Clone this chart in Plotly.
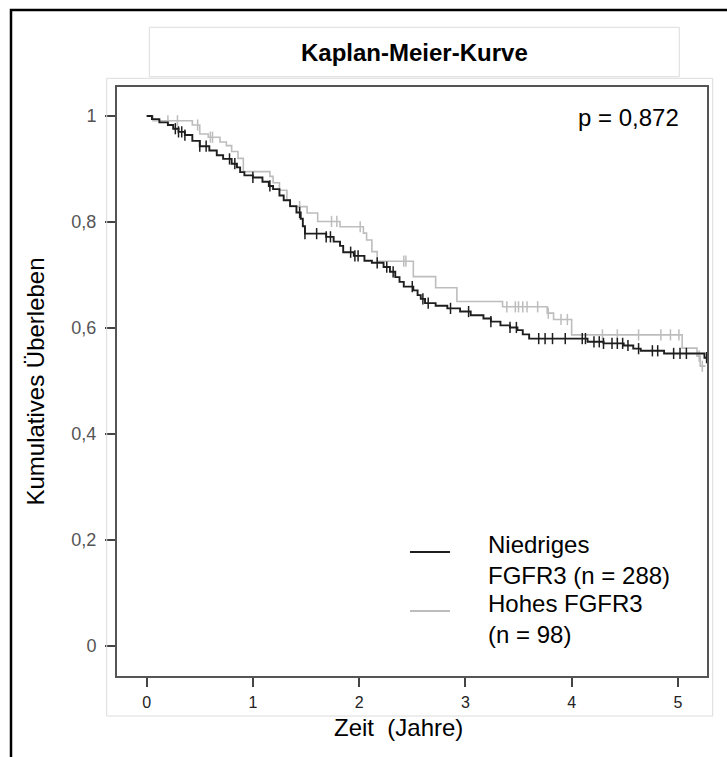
import numpy as np
import plotly.graph_objects as go

# ---------------- data ----------------
low_times = [0, 0.05, 0.12, 0.2, 0.25, 0.3, 0.36, 0.43, 0.5, 0.59, 0.66, 0.72, 0.8, 0.85,
             0.88, 0.92, 1.0, 1.09, 1.15, 1.19, 1.25, 1.29, 1.35, 1.41, 1.45, 1.47, 1.49,
             1.69, 1.76, 1.82, 1.85, 1.95, 2.05, 2.12, 2.23, 2.29, 2.34, 2.38, 2.42, 2.51,
             2.55, 2.58, 2.62, 2.72, 2.83, 2.95, 3.05, 3.17, 3.24, 3.33, 3.42, 3.49, 3.54,
             3.6, 4.15, 4.3, 4.49, 4.58, 4.65, 4.87, 5.25, 5.28]
low_surv = [1.0, 0.994, 0.988, 0.983, 0.976, 0.970, 0.964, 0.953, 0.943, 0.935, 0.926,
            0.919, 0.910, 0.903, 0.894, 0.888, 0.884, 0.876, 0.868, 0.862, 0.850, 0.841,
            0.830, 0.818, 0.806, 0.792, 0.778, 0.772, 0.763, 0.755, 0.743, 0.736, 0.727,
            0.723, 0.715, 0.706, 0.696, 0.687, 0.678, 0.671, 0.662, 0.655, 0.647, 0.642,
            0.637, 0.631, 0.624, 0.618, 0.612, 0.605, 0.601, 0.596, 0.588, 0.580, 0.574,
            0.571, 0.567, 0.561, 0.557, 0.552, 0.544, 0.544]
low_censor = [0.27, 0.3, 0.33, 0.36, 0.5, 0.56, 0.78, 0.83, 1.0, 1.16, 1.44, 1.49, 1.6,
              1.69, 1.73, 1.92, 1.96, 1.99, 2.17, 2.26, 2.32, 2.5, 2.6, 2.65, 2.86, 3.03,
              3.24, 3.42, 3.48, 3.69, 3.75, 3.82, 3.94, 4.1, 4.13, 4.21, 4.26, 4.3, 4.38,
              4.43, 4.48, 4.53, 4.63, 4.76, 4.81, 4.96, 5.02, 5.08, 5.27]

high_times = [0, 0.06, 0.43, 0.5, 0.58, 0.69, 0.75, 0.8, 0.86, 0.91, 1.16, 1.19, 1.25, 1.32,
              1.35, 1.51, 1.61, 1.82, 2.04, 2.07, 2.12, 2.17, 2.51, 2.72, 2.92, 3.35, 3.77,
              3.83, 4.0, 5.04, 5.18, 5.21, 5.26]
high_surv = [1.0, 0.991, 0.983, 0.966, 0.960, 0.951, 0.944, 0.933, 0.920, 0.895, 0.886,
             0.874, 0.860, 0.842, 0.829, 0.817, 0.801, 0.791, 0.779, 0.766, 0.744, 0.726,
             0.697, 0.676, 0.650, 0.640, 0.628, 0.616, 0.587, 0.562, 0.547, 0.528, 0.528]
high_censor = [0.2, 0.29, 0.48, 0.6, 0.62, 1.44, 1.74, 1.79, 2.01, 2.42, 2.44, 3.39, 3.47,
               3.5, 3.54, 3.58, 3.68, 3.78, 3.9, 3.96, 4.29, 4.43, 4.63, 4.84, 4.93, 5.01,
               5.2, 5.23]

group_names = ["Niedriges<br>FGFR3 (n = 288)", "Hohes FGFR3<br>(n = 98)"]
x_tick_vals = [0, 1, 2, 3, 4, 5]
x_tick_text = ["0", "1", "2", "3", "4", "5"]
y_tick_vals = [0, 0.2, 0.4, 0.6, 0.8, 1.0]
y_tick_text = ["0", "0,2", "0,4", "0,6", "0,8", "1"]
title_text = "Kaplan-Meier-Kurve"
p_text = "p = 0,872"
x_title = "Zeit&nbsp;&nbsp;(Jahre)"
y_title = "Kumulatives Überleben"

# ---------------- layout geometry ----------------
W, H = 727, 757
L, R, T, B = 117, 707, 87, 676
FONT = "Liberation Sans, Arial, sans-serif"


def px(x):
    return (x - L) / (R - L)


def py(y):
    return (B - y) / (B - T)


def step_lookup(times, surv, t):
    idx = np.searchsorted(np.array(times), np.array(t), side="right") - 1
    return [surv[i] for i in idx]


BLACK = "#1e1e1e"
GREY = "#bdbdbd"

fig = go.Figure()
for times, surv, cens, col, name, lw in [
    (high_times, high_surv, high_censor, GREY, group_names[1], 1.6),
    (low_times, low_surv, low_censor, BLACK, group_names[0], 1.9),
]:
    fig.add_trace(go.Scatter(x=times, y=surv, mode="lines", line=dict(color=col, width=lw, shape="hv"),
                             name=name, showlegend=False, hoverinfo="skip"))
    fig.add_trace(go.Scatter(x=cens, y=step_lookup(times, surv, cens), mode="markers",
                             marker=dict(symbol="line-ns", size=8, line=dict(color=col, width=1.5)),
                             showlegend=False, hoverinfo="skip"))

shapes = [
    dict(type="rect", xref="paper", yref="paper", x0=px(11), y0=py(10), x1=px(745), y1=py(775),
         line=dict(color="black", width=2.5)),
    dict(type="rect", xref="paper", yref="paper", x0=px(149.3), y0=py(27.3), x1=px(679.3), y1=py(76.7),
         line=dict(color="#dcdcdc", width=1)),
    dict(type="rect", xref="paper", yref="paper", x0=px(106.7), y0=py(78.3), x1=px(712.7), y1=py(716),
         line=dict(color="#dcdcdc", width=1)),
    dict(type="line", xref="paper", yref="paper", x0=px(410), y0=py(552), x1=px(450), y1=py(552),
         line=dict(color=BLACK, width=2)),
    dict(type="line", xref="paper", yref="paper", x0=px(410), y0=py(611), x1=px(450), y1=py(611),
         line=dict(color=GREY, width=2)),
]

annotations = [
    dict(text=f"<b>{title_text}</b>", x=px(414.3), y=py(52), xref="paper", yref="paper",
         xanchor="center", yanchor="middle", showarrow=False, font=dict(size=24, color="black", family=FONT)),
    dict(text=p_text, x=px(681), y=py(117), xref="paper", yref="paper",
         xanchor="right", yanchor="middle", showarrow=False, font=dict(size=24, color="black", family=FONT)),
    dict(text=group_names[0], x=px(486), y=py(560), xref="paper", yref="paper", align="left",
         xanchor="left", yanchor="middle", showarrow=False, font=dict(size=24, color="black", family=FONT)),
    dict(text=group_names[1], x=px(486), y=py(619), xref="paper", yref="paper", align="left",
         xanchor="left", yanchor="middle", showarrow=False, font=dict(size=24, color="black", family=FONT)),
    dict(text=x_title, x=px(398), y=py(727), xref="paper", yref="paper",
         xanchor="center", yanchor="middle", showarrow=False, font=dict(size=24, color="black", family=FONT)),
]

fig.update_layout(
    width=W, height=H,
    margin=dict(l=L, r=W - R, t=T, b=H - B, pad=0),
    paper_bgcolor="white", plot_bgcolor="white",
    shapes=shapes, annotations=annotations, showlegend=False,
    font=dict(family=FONT),
)
fig.update_xaxes(range=[-0.279, 5.274], tickvals=x_tick_vals, ticktext=x_tick_text,
                 showgrid=False, zeroline=False, showline=True, linecolor="#555555", linewidth=2,
                 mirror=True, ticks="outside", ticklen=9, tickwidth=1.5, tickcolor="#444444",
                 tickfont=dict(size=16, color="#222222", family=FONT), ticklabelstandoff=2)
fig.update_yaxes(range=[-0.0566, 1.0547], tickvals=y_tick_vals, ticktext=y_tick_text,
                 showgrid=False, zeroline=False, showline=True, linecolor="#555555", linewidth=2,
                 mirror=True, ticks="outside", ticklen=10, tickwidth=1.5, tickcolor="#444444",
                 tickfont=dict(size=18, color="#555555", family=FONT), ticklabelstandoff=5,
                 title=dict(text=y_title, font=dict(size=24, color="black", family=FONT), standoff=20))

fig.write_html("out.html", config={"displayModeBar": False},
               post_script="document.body.style.margin='0';")
